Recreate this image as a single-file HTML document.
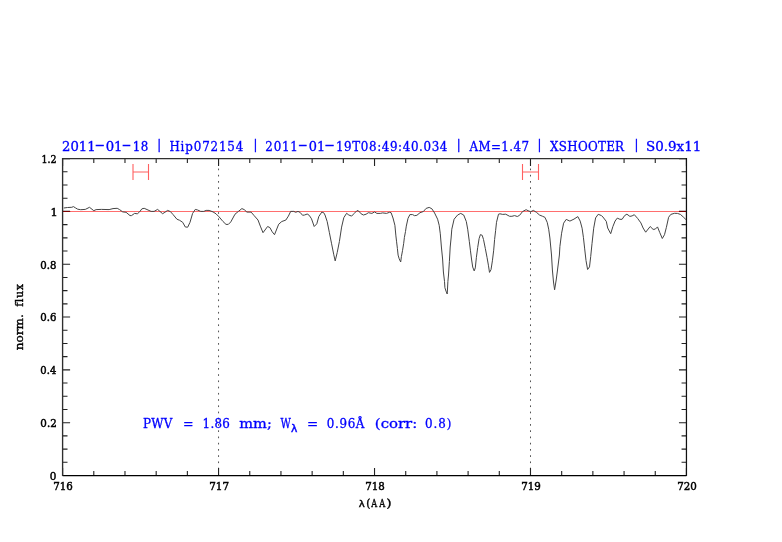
<!DOCTYPE html><html><head><meta charset="utf-8"><title>PWV plot</title><style>html,body{margin:0;padding:0;background:#fff;overflow:hidden}svg{display:block;will-change:transform}text{font-family:"DejaVu Serif","Liberation Serif",serif;white-space:pre;font-variant-ligatures:none;font-kerning:normal}</style></head><body>
<svg width="782" height="542" viewBox="0 0 782 542">
<rect width="782" height="542" fill="#fff"/>
<line x1="218.56" y1="158.60" x2="218.56" y2="475.50" stroke="#000" stroke-width="1" stroke-dasharray="1.7 4.532" stroke-dashoffset="2.514" opacity="0.68"/>
<line x1="530.49" y1="158.60" x2="530.49" y2="475.50" stroke="#000" stroke-width="1" stroke-dasharray="1.7 4.532" stroke-dashoffset="2.514" opacity="0.68"/>
<line x1="62.60" y1="211.5" x2="686.45" y2="211.5" stroke="#ff6e6e" stroke-width="1"/>
<path d="M63.8,208.0 L67.5,207.5 L71.8,207.3 L73.4,206.6 L75.5,207.9 L77.7,209.2 L80.7,209.7 L85.3,209.4 L89.5,207.3 L93.8,210.7 L96.1,209.6 L101.4,209.4 L109.1,209.6 L113.0,208.6 L117.2,208.3 L119.6,209.6 L122.7,211.9 L126.1,212.3 L130.0,215.6 L131.5,215.6 L134.6,213.4 L137.3,213.8 L139.6,211.9 L141.9,208.8 L144.2,208.3 L148.0,210.0 L151.1,211.4 L154.1,211.4 L157.6,209.4 L162.6,213.7 L164.9,212.3 L167.6,210.4 L170.3,211.5 L173.1,214.6 L176.9,219.2 L179.6,220.3 L182.7,222.3 L185.3,227.0 L187.7,227.2 L190.0,222.3 L192.6,213.4 L195.3,209.4 L197.6,210.0 L200.7,211.4 L203.8,211.4 L206.1,210.4 L209.1,210.4 L213.0,211.9 L216.0,213.8 L219.1,216.9 L223.0,221.5 L226.0,224.4 L228.3,224.4 L230.8,221.9 L235.0,214.2 L238.4,211.4 L241.9,208.6 L244.2,209.6 L246.9,212.1 L251.1,212.1 L254.2,215.7 L258.0,220.0 L260.3,226.1 L263.0,232.7 L267.6,226.5 L269.9,227.6 L272.2,231.8 L274.5,234.7 L278.7,224.2 L281.8,221.5 L285.8,220.1 L288.4,216.1 L290.7,211.4 L293.8,211.4 L295.7,212.3 L298.0,211.4 L300.0,212.3 L302.6,215.3 L304.6,215.0 L307.2,214.0 L309.2,215.3 L311.5,218.8 L314.2,226.5 L316.8,223.8 L318.8,216.5 L321.8,212.1 L323.7,212.7 L325.0,215.0 L327.2,221.6 L329.4,232.7 L331.6,243.8 L333.8,254.8 L335.2,260.9 L337.2,252.6 L339.4,241.5 L341.6,227.1 L343.8,217.7 L346.6,213.3 L348.8,215.0 L351.6,216.1 L354.3,213.3 L357.1,210.5 L358.8,211.1 L361.1,213.8 L363.4,215.0 L366.1,214.2 L368.4,212.7 L371.9,213.4 L374.6,211.9 L376.9,213.4 L380.3,213.4 L382.6,212.9 L386.5,213.4 L389.5,212.3 L391.1,212.7 L393.0,218.0 L394.9,225.3 L395.9,235.9 L396.6,241.8 L397.4,248.5 L398.1,255.1 L399.2,258.8 L400.7,262.0 L401.4,256.6 L402.5,250.7 L403.7,243.3 L404.4,237.4 L405.5,231.5 L406.3,226.1 L408.0,218.4 L409.9,214.6 L412.6,214.6 L414.6,215.7 L416.9,215.3 L420.0,212.7 L423.4,211.5 L426.1,208.4 L429.2,207.4 L431.9,208.8 L434.6,213.0 L437.6,219.2 L439.2,225.3 L440.3,233.8 L441.4,247.0 L442.6,259.0 L443.4,272.0 L444.5,281.4 L444.9,287.7 L446.0,291.1 L447.2,294.0 L447.5,289.0 L447.9,281.4 L448.5,275.0 L449.4,261.4 L450.2,247.0 L451.1,238.0 L451.8,229.2 L454.1,219.2 L457.6,215.0 L460.7,213.4 L463.7,215.0 L466.3,221.5 L467.7,229.2 L469.3,241.3 L470.4,250.2 L471.5,259.0 L472.7,267.0 L474.2,270.9 L475.3,267.9 L476.4,257.3 L477.7,247.5 L479.1,238.6 L480.4,234.6 L482.2,235.3 L483.5,239.5 L485.3,248.4 L487.0,257.3 L488.4,265.2 L489.5,272.4 L491.0,269.7 L492.4,260.8 L493.7,250.2 L494.6,239.5 L495.6,230.7 L496.5,222.3 L498.5,214.2 L500.0,213.8 L502.7,214.4 L505.7,214.2 L509.6,216.3 L511.9,216.3 L514.6,215.6 L517.3,216.5 L519.6,215.3 L522.6,211.5 L526.1,209.7 L528.0,210.7 L530.7,211.7 L533.4,210.4 L536.4,212.3 L539.5,215.0 L542.6,216.3 L544.9,217.3 L547.2,222.3 L548.7,229.2 L549.9,238.0 L551.5,255.0 L552.4,270.0 L553.5,282.0 L554.6,289.8 L556.2,280.0 L557.5,270.0 L559.4,255.0 L559.9,246.5 L561.6,233.2 L563.6,223.2 L566.2,219.4 L569.9,221.1 L574.0,219.1 L577.8,216.6 L580.2,221.1 L582.1,228.2 L583.4,237.3 L584.7,248.9 L586.0,260.5 L587.6,269.5 L589.5,266.9 L590.7,256.6 L592.0,243.7 L593.7,228.2 L595.6,217.9 L598.2,214.3 L601.5,215.6 L602.9,217.0 L606.3,221.4 L607.7,228.0 L610.7,233.7 L612.9,226.5 L615.1,221.0 L617.3,218.1 L619.9,219.3 L622.1,219.3 L624.7,215.5 L626.9,214.2 L629.9,216.4 L632.1,215.9 L634.3,214.7 L637.6,218.4 L640.9,222.9 L643.1,228.0 L645.7,232.2 L650.2,226.5 L653.1,229.4 L655.3,229.1 L657.5,226.9 L659.7,232.4 L662.3,238.5 L664.5,234.7 L666.4,227.3 L668.6,217.3 L670.8,214.4 L674.5,213.3 L677.4,213.4 L680.4,214.4 L683.3,217.0 L685.9,219.5" fill="none" stroke="#444" stroke-width="1" stroke-linejoin="round"/>
<path d="M62.60,158.60v7.5M62.60,475.50v-7.5M93.79,158.60v4.4M93.79,475.50v-4.4M124.98,158.60v4.4M124.98,475.50v-4.4M156.18,158.60v4.4M156.18,475.50v-4.4M187.37,158.60v4.4M187.37,475.50v-4.4M218.56,158.60v7.5M218.56,475.50v-7.5M249.76,158.60v4.4M249.76,475.50v-4.4M280.95,158.60v4.4M280.95,475.50v-4.4M312.14,158.60v4.4M312.14,475.50v-4.4M343.33,158.60v4.4M343.33,475.50v-4.4M374.53,158.60v7.5M374.53,475.50v-7.5M405.72,158.60v4.4M405.72,475.50v-4.4M436.91,158.60v4.4M436.91,475.50v-4.4M468.10,158.60v4.4M468.10,475.50v-4.4M499.29,158.60v4.4M499.29,475.50v-4.4M530.49,158.60v7.5M530.49,475.50v-7.5M561.68,158.60v4.4M561.68,475.50v-4.4M592.87,158.60v4.4M592.87,475.50v-4.4M624.07,158.60v4.4M624.07,475.50v-4.4M655.26,158.60v4.4M655.26,475.50v-4.4M686.45,158.60v7.5M686.45,475.50v-7.5M62.60,475.50h7.5M686.45,475.50h-7.5M62.60,462.30h4.9M686.45,462.30h-4.9M62.60,449.09h4.9M686.45,449.09h-4.9M62.60,435.89h4.9M686.45,435.89h-4.9M62.60,422.68h7.5M686.45,422.68h-7.5M62.60,409.48h4.9M686.45,409.48h-4.9M62.60,396.27h4.9M686.45,396.27h-4.9M62.60,383.07h4.9M686.45,383.07h-4.9M62.60,369.87h7.5M686.45,369.87h-7.5M62.60,356.66h4.9M686.45,356.66h-4.9M62.60,343.46h4.9M686.45,343.46h-4.9M62.60,330.25h4.9M686.45,330.25h-4.9M62.60,317.05h7.5M686.45,317.05h-7.5M62.60,303.85h4.9M686.45,303.85h-4.9M62.60,290.64h4.9M686.45,290.64h-4.9M62.60,277.44h4.9M686.45,277.44h-4.9M62.60,264.23h7.5M686.45,264.23h-7.5M62.60,251.03h4.9M686.45,251.03h-4.9M62.60,237.83h4.9M686.45,237.83h-4.9M62.60,224.62h4.9M686.45,224.62h-4.9M62.60,211.42h7.5M686.45,211.42h-7.5M62.60,198.21h4.9M686.45,198.21h-4.9M62.60,185.01h4.9M686.45,185.01h-4.9M62.60,171.80h4.9M686.45,171.80h-4.9M62.60,158.60h7.5M686.45,158.60h-7.5" stroke="#222" stroke-width="1.1" fill="none"/>
<path d="M62.60,158.60H686.45" stroke="#303030" stroke-width="1.4" fill="none"/>
<path d="M62.60,475.50H686.45" stroke="#000" stroke-width="1.25" fill="none"/>
<path d="M62.60,157.90V476.10" stroke="#2e2e2e" stroke-width="1.35" fill="none"/>
<path d="M686.45,157.90V476.10" stroke="#111" stroke-width="1.25" fill="none"/>
<path d="M63.20,211.5h6.9M685.85,211.5h-6.9" stroke="#800000" stroke-width="1"/>
<path d="M133.0,164V180M148.5,164V180M133.0,172.0H148.5" stroke="#ff6060" stroke-width="1.1" fill="none"/>
<path d="M522.5,164V180M538.5,164V180M522.5,172.0H538.5" stroke="#ff6060" stroke-width="1.1" fill="none"/>
<text x="62.07" y="150.60" style="font-family:DejaVu Serif Condensed" font-size="13.2" fill="#0000ff" stroke="#0000ff" stroke-width="0.3" textLength="33.53" lengthAdjust="spacingAndGlyphs">2011</text>
<text x="94.85" y="149.30" style="font-family:DejaVu Serif Condensed" font-size="13.2" fill="#0000ff" stroke="#0000ff" stroke-width="0.3" textLength="10.01" lengthAdjust="spacingAndGlyphs">-</text>
<text x="105.66" y="150.60" style="font-family:DejaVu Serif Condensed" font-size="13.2" fill="#0000ff" stroke="#0000ff" stroke-width="0.3" textLength="16.81" lengthAdjust="spacingAndGlyphs">01</text>
<text x="121.82" y="149.30" style="font-family:DejaVu Serif Condensed" font-size="13.2" fill="#0000ff" stroke="#0000ff" stroke-width="0.3" textLength="9.51" lengthAdjust="spacingAndGlyphs">-</text>
<text x="132.85" y="150.60" style="font-family:DejaVu Serif Condensed" font-size="13.2" fill="#0000ff" stroke="#0000ff" stroke-width="0.3" textLength="15.54" lengthAdjust="spacing">18</text>
<text x="157.32" y="149.10" style="font-family:DejaVu Serif Condensed" font-size="12.8" fill="#0000ff" stroke="#0000ff" stroke-width="0.3">|</text>
<text x="169.40" y="150.60" style="font-family:DejaVu Serif Condensed" font-size="13.2" fill="#0000ff" stroke="#0000ff" stroke-width="0.3" textLength="73.92" lengthAdjust="spacing">Hip072154</text>
<text x="253.62" y="149.10" style="font-family:DejaVu Serif Condensed" font-size="12.8" fill="#0000ff" stroke="#0000ff" stroke-width="0.3">|</text>
<text x="265.35" y="150.60" style="font-family:DejaVu Serif Condensed" font-size="13.2" fill="#0000ff" stroke="#0000ff" stroke-width="0.3" textLength="32.39" lengthAdjust="spacing">2011</text>
<text x="298.12" y="149.30" style="font-family:DejaVu Serif Condensed" font-size="13.2" fill="#0000ff" stroke="#0000ff" stroke-width="0.3" textLength="9.51" lengthAdjust="spacingAndGlyphs">-</text>
<text x="308.79" y="150.60" style="font-family:DejaVu Serif Condensed" font-size="13.2" fill="#0000ff" stroke="#0000ff" stroke-width="0.3" textLength="16.34" lengthAdjust="spacingAndGlyphs">01</text>
<text x="324.64" y="149.30" style="font-family:DejaVu Serif Condensed" font-size="13.2" fill="#0000ff" stroke="#0000ff" stroke-width="0.3" textLength="10.13" lengthAdjust="spacingAndGlyphs">-</text>
<text x="335.95" y="150.60" style="font-family:DejaVu Serif Condensed" font-size="13.2" fill="#0000ff" stroke="#0000ff" stroke-width="0.3" textLength="111.40" lengthAdjust="spacing">19T08:49:40.034</text>
<text x="456.82" y="149.10" style="font-family:DejaVu Serif Condensed" font-size="12.8" fill="#0000ff" stroke="#0000ff" stroke-width="0.3">|</text>
<text x="469.45" y="150.60" style="font-family:DejaVu Serif Condensed" font-size="13.2" fill="#0000ff" stroke="#0000ff" stroke-width="0.3" textLength="59.58" lengthAdjust="spacing">AM=1.47</text>
<text x="537.52" y="149.10" style="font-family:DejaVu Serif Condensed" font-size="12.8" fill="#0000ff" stroke="#0000ff" stroke-width="0.3">|</text>
<text x="550.10" y="150.60" style="font-family:DejaVu Serif Condensed" font-size="13.2" fill="#0000ff" stroke="#0000ff" stroke-width="0.3" textLength="73.94" lengthAdjust="spacing">XSHOOTER</text>
<text x="634.42" y="149.10" style="font-family:DejaVu Serif Condensed" font-size="12.8" fill="#0000ff" stroke="#0000ff" stroke-width="0.3">|</text>
<text x="646.05" y="150.60" style="font-family:DejaVu Serif Condensed" font-size="13.2" fill="#0000ff" stroke="#0000ff" stroke-width="0.3" textLength="55.18" lengthAdjust="spacingAndGlyphs">S0.9x11</text>
<text x="143.00" y="427.90" style="font-family:DejaVu Serif Condensed" font-size="13.2" fill="#0000ff" stroke="#0000ff" stroke-width="0.3" textLength="29.27" lengthAdjust="spacing">PWV</text>
<text x="182.94" y="427.90" style="font-family:DejaVu Serif Condensed" font-size="13.2" fill="#0000ff" stroke="#0000ff" stroke-width="0.3" textLength="10.53" lengthAdjust="spacingAndGlyphs">=</text>
<text x="202.55" y="427.90" style="font-family:DejaVu Serif Condensed" font-size="13.2" fill="#0000ff" stroke="#0000ff" stroke-width="0.3" textLength="27.32" lengthAdjust="spacing">1.86</text>
<text x="239.29" y="427.90" style="font-family:DejaVu Serif Condensed" font-size="13.2" fill="#0000ff" stroke="#0000ff" stroke-width="0.3" textLength="32.53" lengthAdjust="spacingAndGlyphs">mm;</text>
<text x="280.60" y="427.90" style="font-family:DejaVu Serif Condensed" font-size="13.2" fill="#0000ff" stroke="#0000ff" stroke-width="0.3" textLength="10.36" lengthAdjust="spacingAndGlyphs">W</text>
<text x="307.08" y="427.90" style="font-family:DejaVu Serif Condensed" font-size="13.2" fill="#0000ff" stroke="#0000ff" stroke-width="0.3" textLength="11.17" lengthAdjust="spacingAndGlyphs">=</text>
<text x="326.85" y="427.90" style="font-family:DejaVu Serif Condensed" font-size="13.2" fill="#0000ff" stroke="#0000ff" stroke-width="0.3" textLength="37.58" lengthAdjust="spacing">0.96Å</text>
<text x="374.86" y="427.90" style="font-family:DejaVu Serif Condensed" font-size="13.2" fill="#0000ff" stroke="#0000ff" stroke-width="0.3" textLength="42.42" lengthAdjust="spacingAndGlyphs">(corr:</text>
<text x="425.05" y="427.90" style="font-family:DejaVu Serif Condensed" font-size="13.2" fill="#0000ff" stroke="#0000ff" stroke-width="0.3" textLength="26.30" lengthAdjust="spacing">0.8)</text>
<text x="291.00" y="431.90" style="font-family:DejaVu Sans" font-size="10.6" fill="#0000ff" stroke="#0000ff" stroke-width="0.45" textLength="6.33" lengthAdjust="spacingAndGlyphs">λ</text>
<text x="41.45" y="162.90" font-size="11.2" fill="#000" stroke="#000" stroke-width="0.5" textLength="15.13" lengthAdjust="spacingAndGlyphs">1.2</text>
<text x="50.59" y="215.72" font-size="11.2" fill="#000" stroke="#000" stroke-width="0.5" textLength="7.20" lengthAdjust="spacingAndGlyphs">1</text>
<text x="40.35" y="268.53" font-size="11.2" fill="#000" stroke="#000" stroke-width="0.5" textLength="16.15" lengthAdjust="spacingAndGlyphs">0.8</text>
<text x="40.35" y="321.35" font-size="11.2" fill="#000" stroke="#000" stroke-width="0.5" textLength="16.15" lengthAdjust="spacingAndGlyphs">0.6</text>
<text x="40.35" y="374.17" font-size="11.2" fill="#000" stroke="#000" stroke-width="0.5" textLength="15.91" lengthAdjust="spacingAndGlyphs">0.4</text>
<text x="40.34" y="426.98" font-size="11.2" fill="#000" stroke="#000" stroke-width="0.5" textLength="16.39" lengthAdjust="spacingAndGlyphs">0.2</text>
<text x="49.74" y="479.80" font-size="11.2" fill="#000" stroke="#000" stroke-width="0.5" textLength="6.61" lengthAdjust="spacingAndGlyphs">0</text>
<text x="53.31" y="490.10" font-size="11.2" fill="#000" stroke="#000" stroke-width="0.5" textLength="19.62" lengthAdjust="spacingAndGlyphs">716</text>
<text x="209.26" y="490.10" font-size="11.2" fill="#000" stroke="#000" stroke-width="0.5" textLength="19.86" lengthAdjust="spacingAndGlyphs">717</text>
<text x="365.24" y="490.10" font-size="11.2" fill="#000" stroke="#000" stroke-width="0.5" textLength="19.62" lengthAdjust="spacingAndGlyphs">718</text>
<text x="521.20" y="490.10" font-size="11.2" fill="#000" stroke="#000" stroke-width="0.5" textLength="19.62" lengthAdjust="spacingAndGlyphs">719</text>
<text x="677.16" y="490.10" font-size="11.2" fill="#000" stroke="#000" stroke-width="0.5" textLength="19.62" lengthAdjust="spacingAndGlyphs">720</text>
<text x="358.80" y="507.00" style="font-family:DejaVu Sans" font-size="8.9" fill="#000" stroke="#000" stroke-width="0.4" textLength="6.02" lengthAdjust="spacingAndGlyphs">λ</text>
<text x="366.30" y="507.00" font-size="11.2" fill="#000" stroke="#000" stroke-width="0.4" textLength="4.08" lengthAdjust="spacingAndGlyphs">(</text>
<text x="371.18" y="507.00" font-size="11.2" fill="#000" stroke="#000" stroke-width="0.4" textLength="5.92" lengthAdjust="spacingAndGlyphs">A</text>
<text x="379.19" y="507.00" font-size="11.2" fill="#000" stroke="#000" stroke-width="0.4" textLength="6.01" lengthAdjust="spacingAndGlyphs">A</text>
<text x="386.53" y="507.00" font-size="11.2" fill="#000" stroke="#000" stroke-width="0.4" textLength="4.98" lengthAdjust="spacingAndGlyphs">)</text>
<text transform="translate(23.1,350.27) rotate(-90)" font-size="11.2" fill="#000" stroke="#000" stroke-width="0.4" textLength="36.01" lengthAdjust="spacingAndGlyphs">norm.</text>
<text transform="translate(23.1,306.85) rotate(-90)" font-size="11.2" fill="#000" stroke="#000" stroke-width="0.4" textLength="22.93" lengthAdjust="spacing">flux</text>
</svg></body></html>
